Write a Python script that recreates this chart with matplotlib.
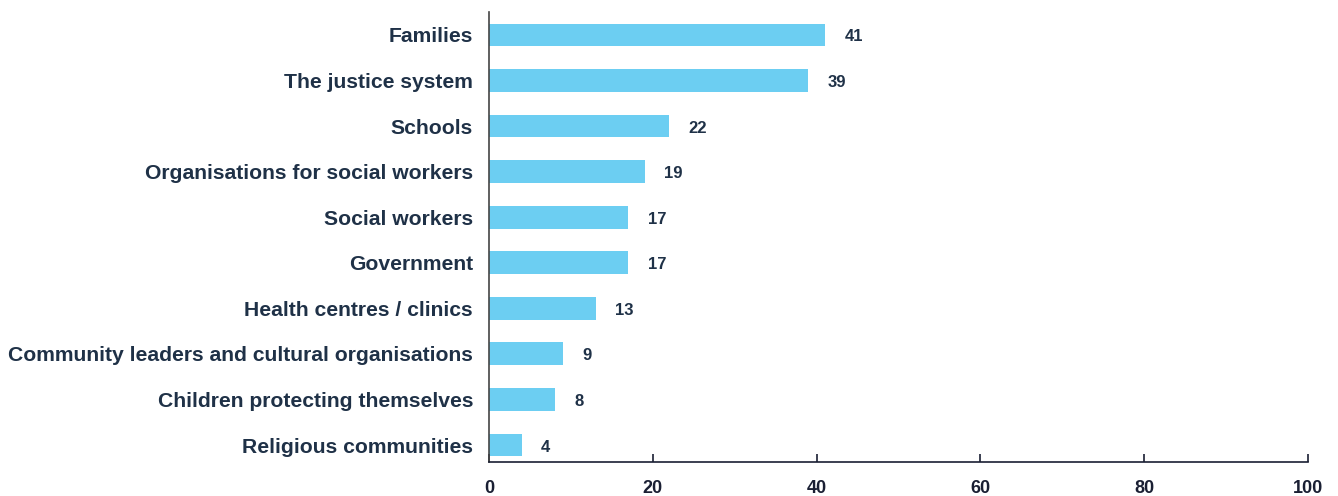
import matplotlib.pyplot as plt

# Who is responsible for protecting children (number of mentions)
categories = [
    "Families",
    "The justice system",
    "Schools",
    "Organisations for social workers",
    "Social workers",
    "Government",
    "Health centres / clinics",
    "Community leaders and cultural organisations",
    "Children protecting themselves",
    "Religious communities",
]
values = [41, 39, 22, 19, 17, 17, 13, 9, 8, 4]
x_ticks = [0, 20, 40, 60, 80, 100]

bar_color = "#6ccef2"
text_color = "#1f3147"
axis_color = "#1a1f33"

plt.rcParams["font.family"] = ["Liberation Sans", "DejaVu Sans"]

fig = plt.figure(figsize=(13.38, 4.96), dpi=100)
ax = fig.add_axes([0.3655, 0.0685, 0.6121, 0.9075])

y_pos = list(range(len(categories)))[::-1]
ax.barh(y_pos, values, height=0.5, color=bar_color)

# value labels just right of each bar
for y, v in zip(y_pos, values):
    ax.annotate(str(v), xy=(v, y), xytext=(14, -1.5), textcoords="offset points",
                va="center", ha="left", fontsize=12, fontweight="bold",
                color=text_color)

ax.set_xlim(0, 100)
ax.set_ylim(-0.373, 9.505)
ax.set_xticks(x_ticks)
ax.set_yticks(y_pos)
ax.set_yticklabels(categories)

ax.tick_params(axis="y", length=0, pad=11.5, labelsize=15.2, labelcolor=text_color)
ax.tick_params(axis="x", direction="in", length=6, width=1.2, color=axis_color,
               pad=13, labelsize=13, labelcolor=axis_color)
for lab in ax.get_yticklabels() + ax.get_xticklabels():
    lab.set_fontweight("bold")

ax.spines["top"].set_visible(False)
ax.spines["right"].set_visible(False)
ax.spines["left"].set_color("#444444")
ax.spines["bottom"].set_color(axis_color)
ax.spines["left"].set_linewidth(1.2)
ax.spines["bottom"].set_linewidth(1.2)

fig.savefig("out.png", dpi=100)
